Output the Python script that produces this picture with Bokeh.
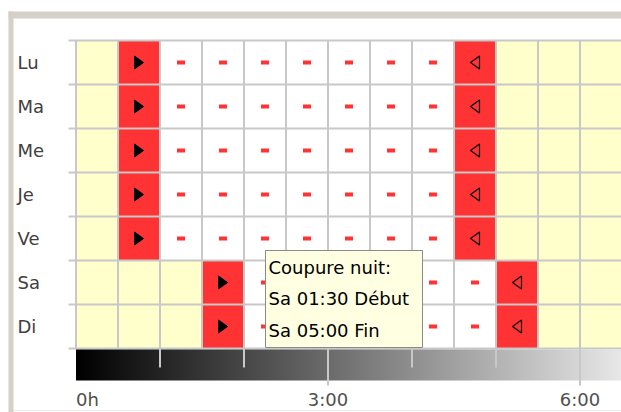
import numpy as np
from bokeh.plotting import figure
from bokeh.models import Range1d
from bokeh.core.properties import value
from bokeh.embed import file_html
from bokeh.resources import INLINE

# ---------------- data ----------------
days = ["Lu", "Ma", "Me", "Je", "Ve", "Sa", "Di"]
cut_start = [0.5, 0.5, 0.5, 0.5, 0.5, 1.5, 1.5]   # hours (Début)
cut_end = [5.0, 5.0, 5.0, 5.0, 5.0, 5.5, 5.5]     # hours (Fin)
slot_hours = 0.5
n_slots = 13
major_ticks = [0, 3, 6]
major_labels = ["0h", "3:00", "6:00"]
minor_ticks = [1, 2, 4, 5]
tooltip_lines = ["Coupure nuit:", "Sa 01:30 Début", "Sa 05:00 Fin"]

# ---------------- geometry (page pixels) ----------------
W, H = 621, 412
OFF = 0                # canvas offset on the page
X0, PXH = 75.5, 84.0   # page x of 0h, px per hour
Y0, PXR = 40.0, 44.0   # page y of first row top, px per row


def hx(px):
    return (px - X0) / PXH


def ry(py):
    return (py - Y0) / PXR


FONT = value("DejaVu Sans")
YELLOW, RED, WHITE = "#ffffcc", "#ff3333", "#ffffff"
GRID = "#c8c8c8"

p = figure(width=W, height=H,
           x_range=Range1d(hx(OFF), hx(OFF + W)),
           y_range=Range1d(ry(OFF + H), ry(OFF)),
           output_backend="svg", toolbar_location=None,
           x_axis_location=None, y_axis_location=None,
           min_border=0, outline_line_color=None,
           background_fill_color="white", border_fill_color="white")
p.grid.visible = False

# outer window frame
p.quad(left=[hx(8), hx(8)], right=[hx(OFF + W), hx(13)],
       top=[ry(11), ry(11)], bottom=[ry(18), ry(OFF + H)],
       fill_color="#d4d0c8", line_color=None)

# ---------------- cells ----------------
cl, cr, ct, cb, cc = [], [], [], [], []
play_x, play_y, back_x, back_y, dash_x, dash_y = [], [], [], [], [], []
for i, d in enumerate(days):
    for k in range(n_slots):
        a = k * slot_hours
        b = a + slot_hours
        cx, cy = a + slot_hours / 2, i + 0.5
        if a == cut_start[i]:
            col = RED
            play_x.append(cx); play_y.append(cy)
        elif b == cut_end[i]:
            col = RED
            back_x.append(cx); back_y.append(cy)
        elif cut_start[i] < a and b < cut_end[i]:
            col = WHITE
            dash_x.append(cx); dash_y.append(cy)
        else:
            col = YELLOW
        cl.append(a); cr.append(b); ct.append(i); cb.append(i + 1); cc.append(col)

p.quad(left=cl, right=cr, top=ct, bottom=cb, fill_color=cc, line_color=None)

# grid lines
bounds_h = [k * slot_hours for k in range(n_slots + 1)]
p.segment(x0=bounds_h, x1=bounds_h, y0=[0] * len(bounds_h), y1=[len(days)] * len(bounds_h),
          line_color=GRID, line_width=2)
rows_b = list(range(len(days) + 1))
p.segment(x0=[hx(68)] * len(rows_b), x1=[n_slots * slot_hours] * len(rows_b),
          y0=rows_b, y1=rows_b, line_color=GRID, line_width=2)

# markers
dx, dy = 4.5 / PXH, 6.5 / PXR
p.patches(xs=[[x - dx, x - dx, x + dx] for x in play_x],
          ys=[[y - dy, y + dy, y] for y in play_y],
          fill_color="black", line_color="black", line_width=1)
p.patches(xs=[[x + dx, x + dx, x - dx] for x in back_x],
          ys=[[y - dy, y + dy, y] for y in back_y],
          fill_color=None, line_color="black", line_width=1.2)
p.rect(x=dash_x, y=dash_y, width=8, height=4, width_units="screen", height_units="screen",
       fill_color=RED, line_color=None)

# day labels
p.text(x=[hx(17)] * len(days), y=[i + 0.5 for i in range(len(days))], text=days,
       text_font=FONT, text_font_size="18px", text_color="#404040",
       text_align="left", text_baseline="middle")

# ---------------- time gradient bar ----------------
n_steps = 546
levels = np.linspace(0, 232, n_steps).astype(np.uint8)
img = np.zeros((1, n_steps), dtype=np.uint32)
view = img.view(dtype=np.uint8).reshape((1, n_steps, 4))
view[0, :, 0] = levels
view[0, :, 1] = levels
view[0, :, 2] = levels
view[0, :, 3] = 255
p.image_rgba(image=[img], x=0, y=ry(349), dw=n_slots * slot_hours, dh=ry(380) - ry(349))

long_t = [t for t in major_ticks if t > 0]
p.segment(x0=long_t, x1=long_t, y0=[len(days)] * len(long_t), y1=[ry(385)] * len(long_t),
          line_color=GRID, line_width=2)
p.segment(x0=minor_ticks, x1=minor_ticks, y0=[len(days)] * len(minor_ticks),
          y1=[ry(367)] * len(minor_ticks), line_color=GRID, line_width=2)

# tick labels
p.text(x=major_ticks[:1], y=[ry(399)], text=major_labels[:1], text_font=FONT,
       text_font_size="18px", text_color="#505050", text_align="left", text_baseline="middle")
p.text(x=major_ticks[1:], y=[ry(399)] * (len(major_ticks) - 1), text=major_labels[1:],
       text_font=FONT, text_font_size="18px", text_color="#505050",
       text_align="center", text_baseline="middle")

# bottom faint line of the window
p.segment(x0=[hx(13)], x1=[hx(OFF + W)], y0=[ry(410)], y1=[ry(410)],
          line_color="#ececec", line_width=1)

# ---------------- tooltip ----------------
p.quad(left=[hx(265)], right=[hx(422)], top=[ry(250)], bottom=[ry(347)],
       fill_color="#ffffe1", line_color="#8a8a8a", line_width=1)
p.text(x=[hx(268)] * 3, y=[ry(267), ry(298), ry(330)], text=tooltip_lines,
       text_font=FONT, text_font_size="18px", text_color="black",
       text_align="left", text_baseline="middle")

open("out.html", "w").write(file_html(p, INLINE))
